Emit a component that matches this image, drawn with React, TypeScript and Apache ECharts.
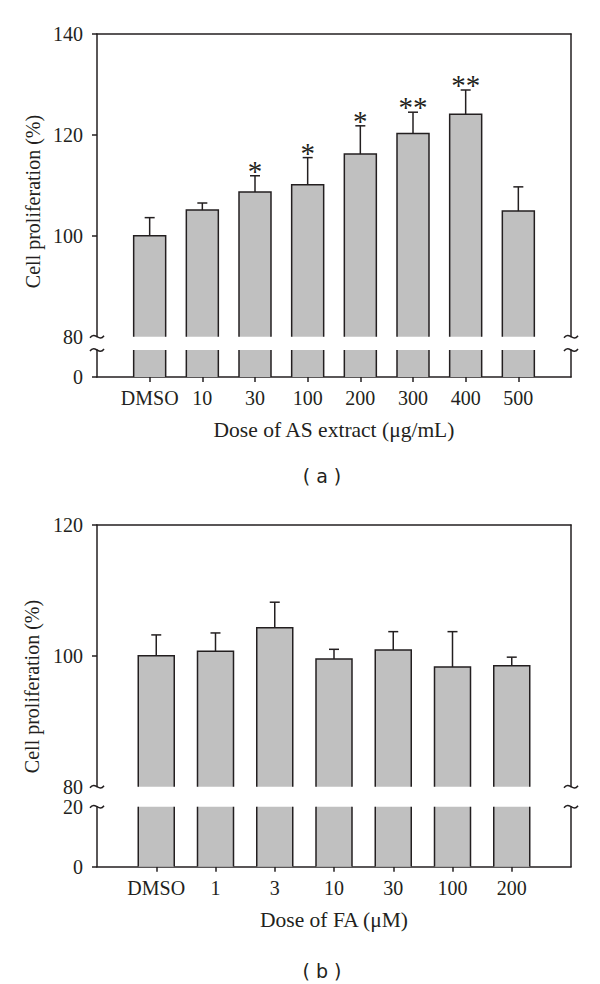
import React, { useEffect, useRef } from 'react';
import * as echarts from 'echarts';

// ---------- data ----------
const catsA = ['DMSO', '10', '30', '100', '200', '300', '400', '500'];
const meanA = [100, 105.1, 108.7, 110.1, 116.2, 120.3, 124.1, 104.9];
const sdA = [3.6, 1.4, 3.2, 5.4, 5.6, 4.2, 4.8, 4.8];
const sigA = ['', '', '*', '*', '*', '**', '**', ''];
const yLabelsAUpper = [80, 100, 120, 140];
const yLabelsALower = [0];

const catsB = ['DMSO', '1', '3', '10', '30', '100', '200'];
const meanB = [100, 100.7, 104.3, 99.5, 100.9, 98.3, 98.5];
const sdB = [3.2, 2.8, 3.9, 1.5, 2.8, 5.4, 1.3];
const sigB = ['', '', '', '', '', '', ''];
const yLabelsBUpper = [80, 100, 120];
const yLabelsBLower = [0, 20];

const yTitle = 'Cell proliferation (%)';
const xTitleA = 'Dose of AS extract (μg/mL)';
const xTitleB = 'Dose of FA (μM)';

// ---------- style ----------
const INK = '#231f20';
const FILL = '#c0c0c0';
const SERIF = '"Liberation Serif", "Times New Roman", serif';
const SANS = '"DejaVu Sans", Verdana, sans-serif';
const LW = 1.5;
const FONT = 20;
const X0 = 97;
const X1 = 571;

type Panel = {
  cats: string[]; mean: number[]; sd: number[]; sig: string[];
  upLabels: number[]; lowLabels: number[];
  upMin: number; upMax: number; lowMax: number;
  top: number; breakTop: number; breakBottom: number; bottom: number;
  barW: number; xTitle: string; yTitleX: number; yTitleY: number;
  tag: string; tagY: number;
};

const panels: Panel[] = [
  {
    cats: catsA, mean: meanA, sd: sdA, sig: sigA,
    upLabels: yLabelsAUpper, lowLabels: yLabelsALower,
    upMin: 80, upMax: 140, lowMax: 5.35,
    top: 34, breakTop: 336.7, breakBottom: 350, bottom: 377,
    barW: 32, xTitle: xTitleA, yTitleX: 33, yTitleY: 201.5,
    tag: '( a )', tagY: 476,
  },
  {
    cats: catsB, mean: meanB, sd: sdB, sig: sigB,
    upLabels: yLabelsBUpper, lowLabels: yLabelsBLower,
    upMin: 80, upMax: 120, lowMax: 20,
    top: 525, breakTop: 786.7, breakBottom: 806.7, bottom: 866.7,
    barW: 36, xTitle: xTitleB, yTitleX: 32, yTitleY: 686.5,
    tag: '( b )', tagY: 970.5,
  },
];

const lineStyle = { color: INK, width: LW };
const labelStyle = { color: INK, fontSize: FONT, fontFamily: SERIF };

function squiggle(cx: number, cy: number) {
  return {
    type: 'bezierCurve',
    shape: { x1: cx - 7, y1: cy + 1, cpx1: cx - 2, cpy1: cy - 6, cpx2: cx + 2, cpy2: cy + 6, x2: cx + 7, y2: cy - 1 },
    style: { stroke: INK, lineWidth: LW, fill: 'none' },
    z: 100,
  };
}

function buildOption() {
  const grid: any[] = [];
  const xAxis: any[] = [];
  const yAxis: any[] = [];
  const series: any[] = [];
  const graphic: any[] = [];

  panels.forEach((p, pi) => {
    const padded = ['', ...p.cats, ''];
    const barData = ['-', ...p.mean, '-'];
    const outlineData = p.mean.map((m, i) => [i + 1, m]);
    const errData = p.mean.map((m, i) => [i + 1, m, m + p.sd[i]]);

    [0, 1].forEach((part) => {
      const g = pi * 2 + part;
      const isUp = part === 0;
      const top = isUp ? p.top : p.breakBottom;
      const bottom = isUp ? p.breakTop : p.bottom;
      grid.push({ left: X0, right: 600 - X1, top, height: bottom - top, containLabel: false });

      if (isUp) {
        xAxis.push({
          gridIndex: g, type: 'category', data: padded, boundaryGap: false, position: 'top',
          axisLine: { show: true, onZero: false, lineStyle },
          axisTick: { show: false }, axisLabel: { show: false }, splitLine: { show: false },
        });
      } else {
        xAxis.push({
          gridIndex: g, type: 'category', data: padded, boundaryGap: false, position: 'bottom',
          axisLine: { show: true, onZero: false, lineStyle },
          axisTick: { show: true, length: 5, inside: false, lineStyle, interval: (i: number) => i > 0 && i < padded.length - 1 },
          axisLabel: { ...labelStyle, interval: 0, margin: 11 },
          splitLine: { show: false },
          name: p.xTitle, nameLocation: 'middle', nameGap: 42,
          nameTextStyle: { ...labelStyle, fontSize: 21.5 },
        });
      }

      const min = isUp ? p.upMin : 0;
      const max = isUp ? p.upMax : p.lowMax;
      const labels = isUp ? p.upLabels : p.lowLabels;
      yAxis.push({
        gridIndex: g, type: 'value', position: 'left', min, max,
        interval: isUp ? 20 : undefined,
        axisLine: { show: true, onZero: false, lineStyle },
        axisTick: { show: true, length: 5, lineStyle, customValues: isUp ? labels.filter((v) => v !== p.upMin) : [0] },
        axisLabel: { ...labelStyle, margin: 14, customValues: labels },
        splitLine: { show: false },
      });
      yAxis.push({
        gridIndex: g, type: 'value', position: 'right', min: 0, max: 1,
        axisLine: { show: true, onZero: false, lineStyle },
        axisTick: { show: false }, axisLabel: { show: false }, splitLine: { show: false },
      });

      series.push({
        type: 'bar', xAxisIndex: g, yAxisIndex: g * 2, data: barData, barWidth: p.barW,
        itemStyle: { color: FILL, borderWidth: 0 }, clip: true, silent: true, z: 2,
      });
      series.push({
        type: 'custom', xAxisIndex: g, yAxisIndex: g * 2, data: outlineData, clip: true, silent: true, z: 3,
        lineStyle: { width: 0.01 },
        renderItem: (_params: any, api: any) => {
          const x = api.value(0);
          const t = api.coord([x, api.value(1)]);
          const b = api.coord([x, 0]);
          const hw = p.barW / 2;
          return {
            type: 'polyline',
            shape: { points: [[t[0] - hw, b[1]], [t[0] - hw, t[1]], [t[0] + hw, t[1]], [t[0] + hw, b[1]]] },
            style: { stroke: INK, lineWidth: LW, fill: null },
          };
        },
      });
      if (isUp) {
        series.push({
          type: 'custom', xAxisIndex: g, yAxisIndex: g * 2, data: errData, silent: true, z: 4,
          renderItem: (params: any, api: any) => {
            const x = api.value(0);
            const m = api.coord([x, api.value(1)]);
            const e = api.coord([x, api.value(2)]);
            const star = p.sig[params.dataIndex];
            const children: any[] = [
              { type: 'line', shape: { x1: m[0], y1: m[1], x2: e[0], y2: e[1] }, style: { stroke: INK, lineWidth: LW } },
              { type: 'line', shape: { x1: e[0] - 5, y1: e[1], x2: e[0] + 5, y2: e[1] }, style: { stroke: INK, lineWidth: LW } },
            ];
            if (star) {
              children.push({
                type: 'text', x: e[0], y: e[1] - 5,
                style: { text: star, fill: INK, fontSize: 29, fontFamily: SERIF, align: 'center', verticalAlign: 'middle' },
              });
            }
            return { type: 'group', children };
          },
        });
      }
    });

    graphic.push(squiggle(X0, p.breakTop), squiggle(X0, p.breakBottom), squiggle(X1, p.breakTop), squiggle(X1, p.breakBottom));
    graphic.push({
      type: 'text', x: p.yTitleX, y: p.yTitleY, rotation: Math.PI / 2,
      style: { text: yTitle, fill: INK, fontSize: FONT, fontFamily: SERIF, align: 'center', verticalAlign: 'middle' },
    });
    graphic.push({
      type: 'text', x: 322, y: p.tagY,
      style: { text: p.tag, fill: INK, fontSize: 19, fontFamily: SANS, align: 'center', verticalAlign: 'middle' },
    });
  });

  return {
    animation: false,
    backgroundColor: '#ffffff',
    textStyle: { fontFamily: SERIF },
    grid, xAxis, yAxis, series, graphic,
  };
}

export default function App() {
  const ref = useRef<HTMLDivElement>(null);
  useEffect(() => {
    if (!ref.current) return;
    const chart = echarts.init(ref.current, undefined, { renderer: 'svg' });
    chart.setOption(buildOption() as any);
    return () => chart.dispose();
  }, []);
  return <div ref={ref} style={{ position: 'absolute', left: 0, top: 0, width: 600, height: 984 }} />;
}
